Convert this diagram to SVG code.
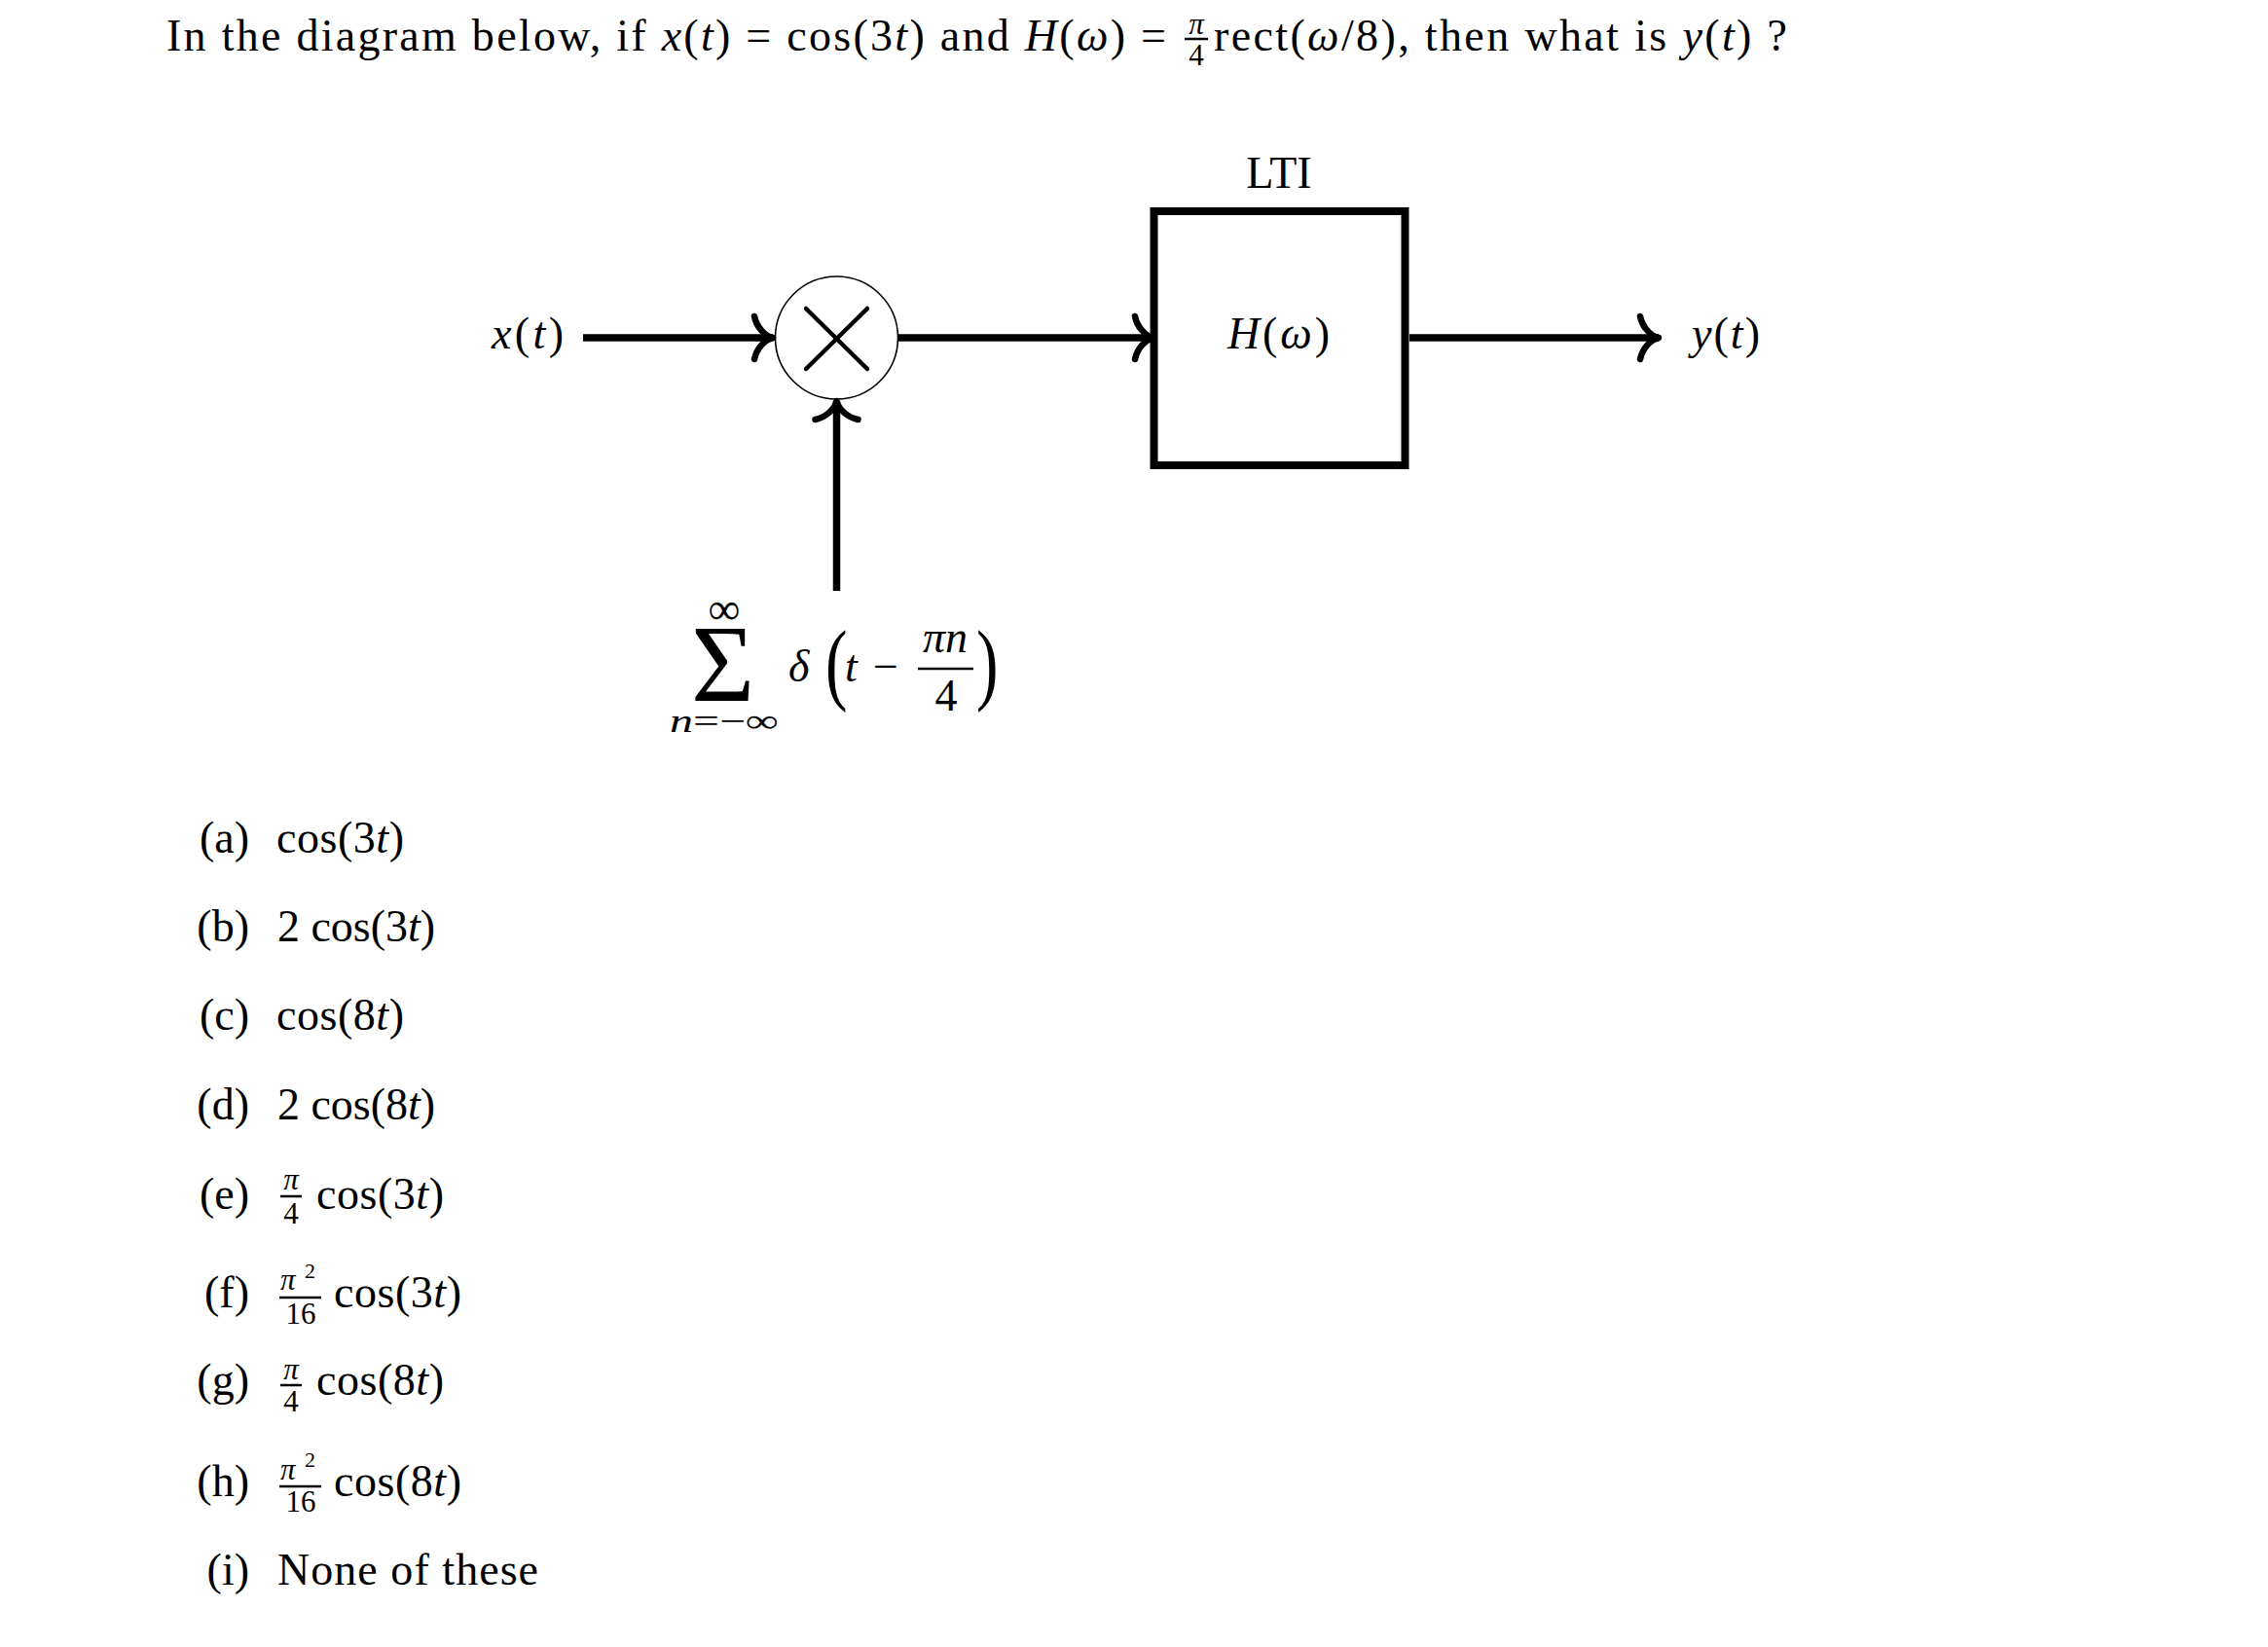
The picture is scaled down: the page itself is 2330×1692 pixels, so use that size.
<svg xmlns="http://www.w3.org/2000/svg" width="2330" height="1692" viewBox="0 0 2330 1692">
<style>
  .t { font-family: "Liberation Serif", "Times New Roman", serif; fill: #000; font-size: 46px; }
  .s { font-size: 31px; }
  .sup { font-size: 22px; }
  .i { font-style: italic; }
  .m { text-anchor: middle; }
  .e { text-anchor: end; }
  .wire { stroke: #000; stroke-width: 7.5; fill: none; marker-end: url(#to); }
  .bar { stroke: #000; stroke-width: 2.5; }
</style>
<defs>
  <marker id="to" viewBox="-26 -30 32 60" markerWidth="32" markerHeight="60" refX="0" refY="0" orient="auto" markerUnits="userSpaceOnUse">
    <path d="M -19,-22 C -17,-12 -9,-2 0,0 C -9,2 -17,12 -19,22" fill="none" stroke="#000" stroke-width="6.5" stroke-linecap="round" stroke-linejoin="round"/>
  </marker>
</defs>
<rect x="0" y="0" width="2330" height="1692" fill="#fff"/>

<g id="title">
  <text class="t" x="171" y="52" textLength="1027" lengthAdjust="spacing">In the diagram below, if <tspan class="i">x</tspan>(<tspan class="i">t</tspan>) = cos(3<tspan class="i">t</tspan>) and <tspan class="i">H</tspan>(<tspan class="i">ω</tspan>) =</text>
  <text class="t s i m" x="1229" y="35">π</text>
  <line class="bar" x1="1217" y1="40" x2="1241" y2="40"/>
  <text class="t s m" x="1229" y="67">4</text>
  <text class="t" x="1247" y="52" textLength="589" lengthAdjust="spacing">rect(<tspan class="i">ω</tspan>/8), then what is <tspan class="i">y</tspan>(<tspan class="i">t</tspan>) ?</text>
</g>

<g id="connectors">
  <line class="wire" x1="599" y1="347" x2="794" y2="347"/>
  <line class="wire" x1="922" y1="347" x2="1185" y2="347"/>
  <line class="wire" x1="1448" y1="347" x2="1704" y2="347"/>
  <line class="wire" x1="859.5" y1="607" x2="859.5" y2="412"/>
</g>

<g id="node-input">
  <text class="t" x="505" y="358" textLength="74" lengthAdjust="spacing"><tspan class="i">x</tspan>(<tspan class="i">t</tspan>)</text>
</g>

<g id="node-multiplier">
  <circle cx="859.5" cy="347" r="63" fill="none" stroke="#000" stroke-width="1.6"/>
  <line x1="828" y1="317" x2="891" y2="379" stroke="#000" stroke-width="4.5" stroke-linecap="round"/>
  <line x1="891" y1="317" x2="828" y2="379" stroke="#000" stroke-width="4.5" stroke-linecap="round"/>
</g>

<g id="node-lti">
  <text class="t m" x="1314" y="193">LTI</text>
  <rect x="1185.5" y="217" width="258" height="261" fill="none" stroke="#000" stroke-width="8"/>
  <text class="t" x="1261" y="358" textLength="105" lengthAdjust="spacing"><tspan class="i">H</tspan>(<tspan class="i">ω</tspan>)</text>
</g>

<g id="node-output">
  <text class="t" x="1738" y="358" textLength="70" lengthAdjust="spacing"><tspan class="i">y</tspan>(<tspan class="i">t</tspan>)</text>
</g>

<g id="node-impulse-train">
  <text class="t m" x="744" y="641" style="font-size:46px">∞</text>
  <text class="t" x="710" y="720" style="font-size:112px">Σ</text>
  <text class="t" x="688" y="752" style="font-size:34px" textLength="112" lengthAdjust="spacingAndGlyphs"><tspan class="i">n</tspan>=−∞</text>
  <text class="t i" x="810" y="700">δ</text>
  <text class="t" transform="translate(848,712) scale(0.72,1)" style="font-size:94px">(</text>
  <text class="t i" x="868" y="700">t</text>
  <text class="t" x="897" y="700">−</text>
  <text class="t i m" x="971" y="670">πn</text>
  <line class="bar" x1="943" y1="687" x2="1000" y2="687"/>
  <text class="t m" x="972" y="730">4</text>
  <text class="t" transform="translate(1003,712) scale(0.72,1)" style="font-size:94px">)</text>
</g>

<g id="options">
  <text class="t e" x="256" y="876">(a)</text>
  <text class="t" x="284" y="876" textLength="131" lengthAdjust="spacing">cos(3<tspan class="i">t</tspan>)</text>

  <text class="t e" x="256" y="967">(b)</text>
  <text class="t" x="285" y="967" textLength="162" lengthAdjust="spacing">2 cos(3<tspan class="i">t</tspan>)</text>

  <text class="t e" x="256" y="1058">(c)</text>
  <text class="t" x="284" y="1058" textLength="131" lengthAdjust="spacing">cos(8<tspan class="i">t</tspan>)</text>

  <text class="t e" x="256" y="1150">(d)</text>
  <text class="t" x="285" y="1150" textLength="162" lengthAdjust="spacing">2 cos(8<tspan class="i">t</tspan>)</text>

  <text class="t e" x="256" y="1242">(e)</text>
  <text class="t s i m" x="299" y="1222">π</text>
  <line class="bar" x1="288" y1="1229" x2="310" y2="1229"/>
  <text class="t s m" x="299" y="1257">4</text>
  <text class="t" x="325" y="1242" textLength="131" lengthAdjust="spacing">cos(3<tspan class="i">t</tspan>)</text>

  <text class="t e" x="256" y="1343">(f)</text>
  <text class="t s i" x="288" y="1325">π</text>
  <text class="t sup" x="313" y="1313">2</text>
  <line class="bar" x1="287" y1="1333" x2="330" y2="1333"/>
  <text class="t s m" x="309" y="1360">16</text>
  <text class="t" x="343" y="1343" textLength="131" lengthAdjust="spacing">cos(3<tspan class="i">t</tspan>)</text>

  <text class="t e" x="256" y="1433">(g)</text>
  <text class="t s i m" x="299" y="1417">π</text>
  <line class="bar" x1="288" y1="1423" x2="310" y2="1423"/>
  <text class="t s m" x="299" y="1450">4</text>
  <text class="t" x="325" y="1433" textLength="131" lengthAdjust="spacing">cos(8<tspan class="i">t</tspan>)</text>

  <text class="t e" x="256" y="1537">(h)</text>
  <text class="t s i" x="288" y="1520">π</text>
  <text class="t sup" x="313" y="1507">2</text>
  <line class="bar" x1="287" y1="1527" x2="330" y2="1527"/>
  <text class="t s m" x="309" y="1553">16</text>
  <text class="t" x="343" y="1537" textLength="131" lengthAdjust="spacing">cos(8<tspan class="i">t</tspan>)</text>

  <text class="t e" x="256" y="1628">(i)</text>
  <text class="t" x="285" y="1628" textLength="268" lengthAdjust="spacing">None of these</text>
</g>
</svg>
